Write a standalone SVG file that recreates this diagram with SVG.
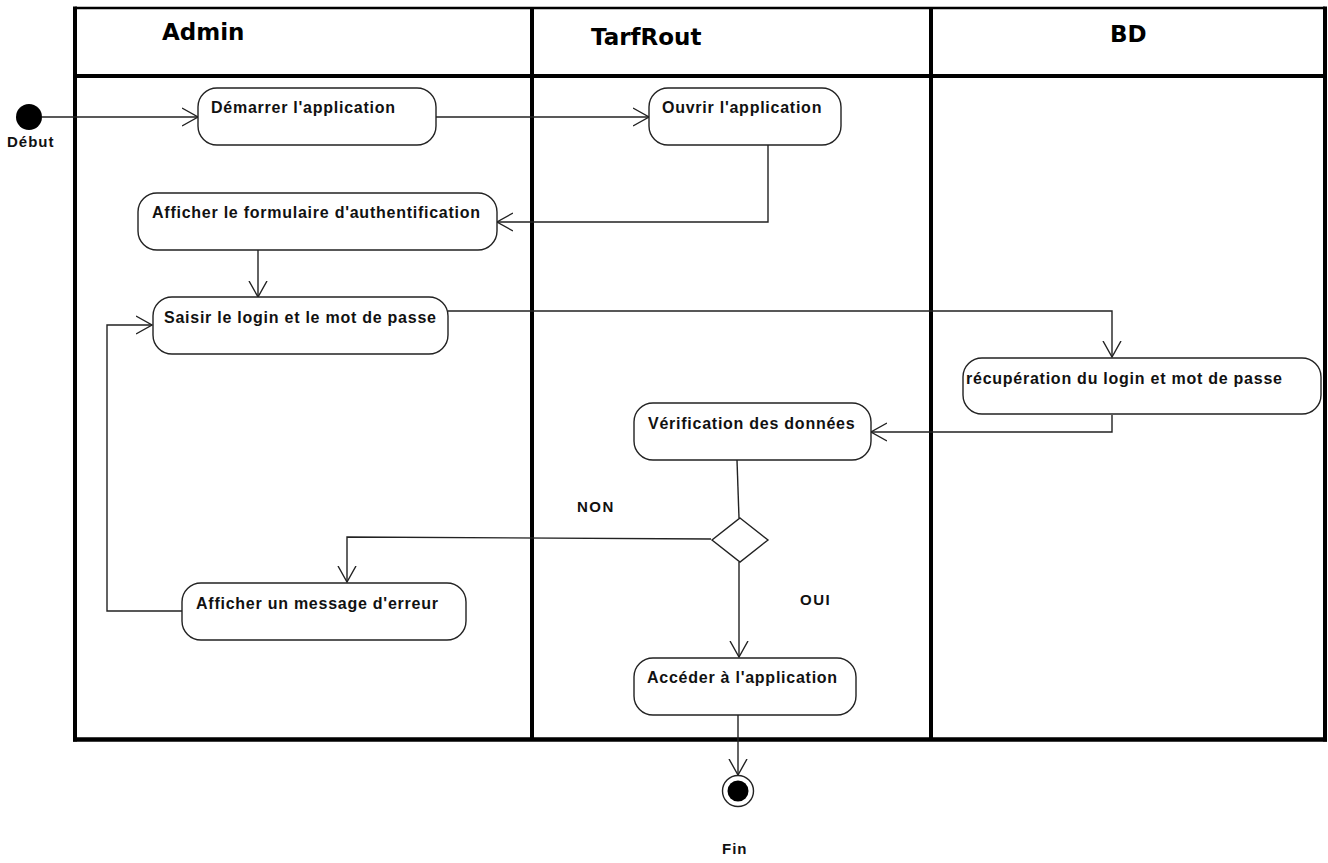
<svg xmlns="http://www.w3.org/2000/svg" width="1328" height="863" viewBox="0 0 1328 863">
  <style>
    .lane { fill: none; stroke: #000; stroke-width: 4; }
    .hdr { font-family: "DejaVu Sans", Verdana, sans-serif; font-weight: bold; font-size: 23px; fill: #000; }
    .act { fill: #fff; stroke: #222; stroke-width: 1.4; }
    .lbl { font-family: "Liberation Sans", Arial, sans-serif; font-weight: bold; font-size: 16px; letter-spacing: 0.75px; fill: #111; }
    .small { font-family: "Liberation Sans", Arial, sans-serif; font-weight: bold; font-size: 15px; letter-spacing: 1.5px; fill: #111; }
    .edge { fill: none; stroke: #222; stroke-width: 1.4; }
  </style>
  <defs>
    <marker id="open" viewBox="0 0 17 20" refX="16" refY="10" markerWidth="17" markerHeight="20" markerUnits="userSpaceOnUse" orient="auto">
      <path d="M0,1 L16,10 L0,19" fill="none" stroke="#222" stroke-width="1.4"/>
    </marker>
  </defs>

  <rect width="1328" height="863" fill="#fff"/>

  <!-- swimlane frame -->
  <g id="swimlanes">
    <line x1="75" y1="8" x2="1325" y2="8" stroke="#000" stroke-width="2.5"/>
    <line x1="75" y1="76" x2="1325" y2="76" class="lane"/>
    <line x1="75" y1="6.5" x2="75" y2="741.5" class="lane"/>
    <line x1="1325" y1="6.5" x2="1325" y2="741.5" class="lane"/>
    <line x1="73" y1="739.5" x2="1327" y2="739.5" stroke="#000" stroke-width="4.5"/>
    <line x1="532" y1="8" x2="532" y2="739" class="lane"/>
    <line x1="931" y1="8" x2="931" y2="739" class="lane"/>
    <text x="162" y="40" class="hdr">Admin</text>
    <text x="591" y="45" class="hdr">TarfRout</text>
    <text x="1110" y="42" class="hdr">BD</text>
  </g>

  <!-- connectors -->
  <g id="connectors">
    <path class="edge" d="M42,117 H198" marker-end="url(#open)"/>
    <path class="edge" d="M436,117 H649" marker-end="url(#open)"/>
    <path class="edge" d="M768,145 V222 H497" marker-end="url(#open)"/>
    <path class="edge" d="M258,249 V297" marker-end="url(#open)"/>
    <path class="edge" d="M448,311 H1112 V357" marker-end="url(#open)"/>
    <path class="edge" d="M1112,415 V432 H871" marker-end="url(#open)"/>
    <path class="edge" d="M737,460 L739,518"/>
    <path class="edge" d="M711,539 L347,537 V582" marker-end="url(#open)"/>
    <path class="edge" d="M739,562 V657" marker-end="url(#open)"/>
    <path class="edge" d="M182,611 H107 V325 H152" marker-end="url(#open)"/>
    <path class="edge" d="M738,715 V775" marker-end="url(#open)"/>
  </g>

  <!-- initial node -->
  <g id="start">
    <circle cx="29" cy="117" r="13" fill="#000"/>
    <text x="7" y="147" class="small" style="letter-spacing:1px">Début</text>
  </g>

  <g id="demarrer">
    <rect class="act" x="198" y="88" width="238" height="57" rx="19"/>
    <text x="211" y="113" class="lbl">Démarrer l'application</text>
  </g>

  <g id="ouvrir">
    <rect class="act" x="649" y="88" width="192" height="57" rx="19"/>
    <text x="662" y="113" class="lbl">Ouvrir l'application</text>
  </g>

  <g id="formulaire">
    <rect class="act" x="138" y="193" width="359" height="57" rx="19"/>
    <text x="152" y="218" class="lbl">Afficher le formulaire d'authentification</text>
  </g>

  <g id="saisir">
    <rect class="act" x="153" y="297" width="295" height="57" rx="19"/>
    <text x="164" y="323" class="lbl">Saisir le login et le mot de passe</text>
  </g>

  <g id="recuperation">
    <rect class="act" x="963" y="358" width="358" height="56" rx="19"/>
    <text x="966" y="384" class="lbl">récupération du login et mot de passe</text>
  </g>

  <g id="verification">
    <rect class="act" x="634" y="403" width="237" height="57" rx="19"/>
    <text x="648" y="429" class="lbl">Vérification des données</text>
  </g>

  <g id="decision">
    <polygon class="act" points="740,518 768,540 740,562 712,540"/>
    <text x="577" y="512" class="small">NON</text>
    <text x="800" y="605" class="small">OUI</text>
  </g>

  <g id="erreur">
    <rect class="act" x="182" y="583" width="284" height="57" rx="19"/>
    <text x="196" y="609" class="lbl">Afficher un message d'erreur</text>
  </g>

  <g id="acceder">
    <rect class="act" x="634" y="658" width="222" height="57" rx="19"/>
    <text x="647" y="683" class="lbl">Accéder à l'application</text>
  </g>

  <!-- final node -->
  <g id="fin">
    <circle cx="738" cy="791" r="15.5" fill="#fff" stroke="#222" stroke-width="1.4"/>
    <circle cx="738" cy="791" r="10.5" fill="#000"/>
    <text x="722" y="854" class="small" style="letter-spacing:1px">Fin</text>
  </g>
</svg>
